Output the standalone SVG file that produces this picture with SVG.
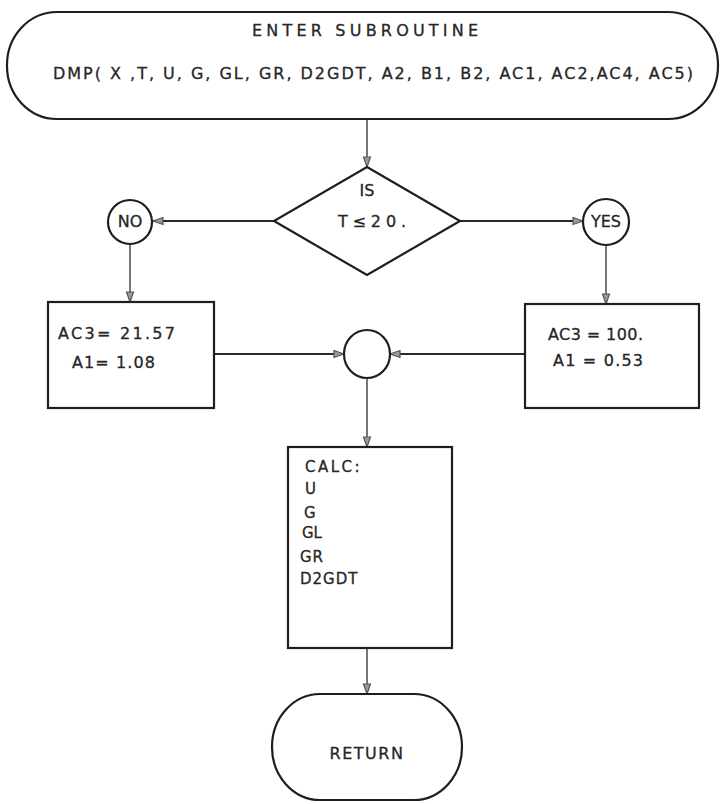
<svg xmlns="http://www.w3.org/2000/svg" width="724" height="804" viewBox="0 0 724 804">
<defs>
<style>
.shape{fill:none;stroke:#1e1e1e;stroke-width:2.2}
.conn{fill:none;stroke:#2a2a2a;stroke-width:2}
.vconn{fill:none;stroke:#555;stroke-width:1.6}
text{font-family:"DejaVu Sans","Liberation Sans",sans-serif;fill:#262626;stroke:#262626;stroke-width:0.3;font-size:16px}
.sm{font-size:15px}
</style>
<marker id="arr" viewBox="0 0 12 10" refX="11" refY="5" markerWidth="12" markerHeight="10" markerUnits="userSpaceOnUse" orient="auto">
<path d="M1,1.5 L11,5 L1,8.5 Z" fill="#9a9a9a" stroke="#555" stroke-width="1.2"/>
</marker>
</defs>
<rect width="724" height="804" fill="#ffffff"/>

<g id="connectors">
<line class="vconn" x1="367" y1="119" x2="367" y2="167" marker-end="url(#arr)"/>
<line class="conn" x1="274" y1="221" x2="153" y2="221" marker-end="url(#arr)"/>
<line class="conn" x1="460" y1="221" x2="583" y2="221" marker-end="url(#arr)"/>
<line class="vconn" x1="130" y1="244" x2="130" y2="302" marker-end="url(#arr)"/>
<line class="vconn" x1="606" y1="245" x2="606" y2="304" marker-end="url(#arr)"/>
<line class="conn" x1="214" y1="354" x2="344" y2="354" marker-end="url(#arr)"/>
<line class="conn" x1="525" y1="354" x2="390" y2="354" marker-end="url(#arr)"/>
<line class="vconn" x1="367" y1="377" x2="367" y2="447" marker-end="url(#arr)"/>
<line class="vconn" x1="367" y1="648" x2="367" y2="694" marker-end="url(#arr)"/>
</g>

<g id="enter">
<rect class="shape" x="7" y="12" width="711" height="107" rx="50" ry="53"/>
<text x="252" y="36" textLength="226" lengthAdjust="spacing">ENTER   SUBROUTINE</text>
<text x="53" y="79" textLength="640" lengthAdjust="spacing">DMP( X ,T, U, G, GL, GR, D2GDT, A2, B1, B2, AC1, AC2,AC4, AC5)</text>
</g>

<g id="decision">
<polygon class="shape" points="367,167 460,221 367,275 274,221"/>
<text x="367" y="196" text-anchor="middle" font-size="17">IS</text>
<text x="338" y="227" textLength="68" lengthAdjust="spacing" font-size="19">T≤20.</text>
</g>

<g id="no">
<circle class="shape" cx="130" cy="222" r="22"/>
<text x="130" y="227" text-anchor="middle" font-size="15">NO</text>
</g>

<g id="yes">
<circle class="shape" cx="606" cy="222" r="23"/>
<text x="606" y="227" text-anchor="middle" font-size="14">YES</text>
</g>

<g id="box-no">
<rect class="shape" x="48" y="302" width="166" height="106"/>
<text x="58" y="339" textLength="117" lengthAdjust="spacing" font-size="17">AC3= 21.57</text>
<text x="72" y="368" textLength="83" lengthAdjust="spacing" font-size="17">A1= 1.08</text>
</g>

<g id="box-yes">
<rect class="shape" x="525" y="304" width="174" height="104"/>
<text x="548" y="340" textLength="95" lengthAdjust="spacing" font-size="17">AC3 = 100.</text>
<text x="553" y="366" textLength="90" lengthAdjust="spacing" font-size="17">A1 = 0.53</text>
</g>

<g id="join">
<ellipse class="shape" cx="367" cy="354" rx="23" ry="24"/>
</g>

<g id="calc">
<rect class="shape" x="288" y="447" width="164" height="201"/>
<text class="sm" x="305" y="472" letter-spacing="2.5">CALC:</text>
<text class="sm" x="305" y="494">U</text>
<text class="sm" x="304" y="518">G</text>
<text class="sm" x="302" y="538">GL</text>
<text class="sm" x="300" y="562" letter-spacing="1">GR</text>
<text class="sm" x="300" y="584" letter-spacing="1">D2GDT</text>
</g>

<g id="return">
<rect class="shape" x="272" y="694" width="190" height="106" rx="48" ry="53"/>
<text x="367" y="759" text-anchor="middle" font-size="15" letter-spacing="1.5">RETURN</text>
</g>
</svg>
